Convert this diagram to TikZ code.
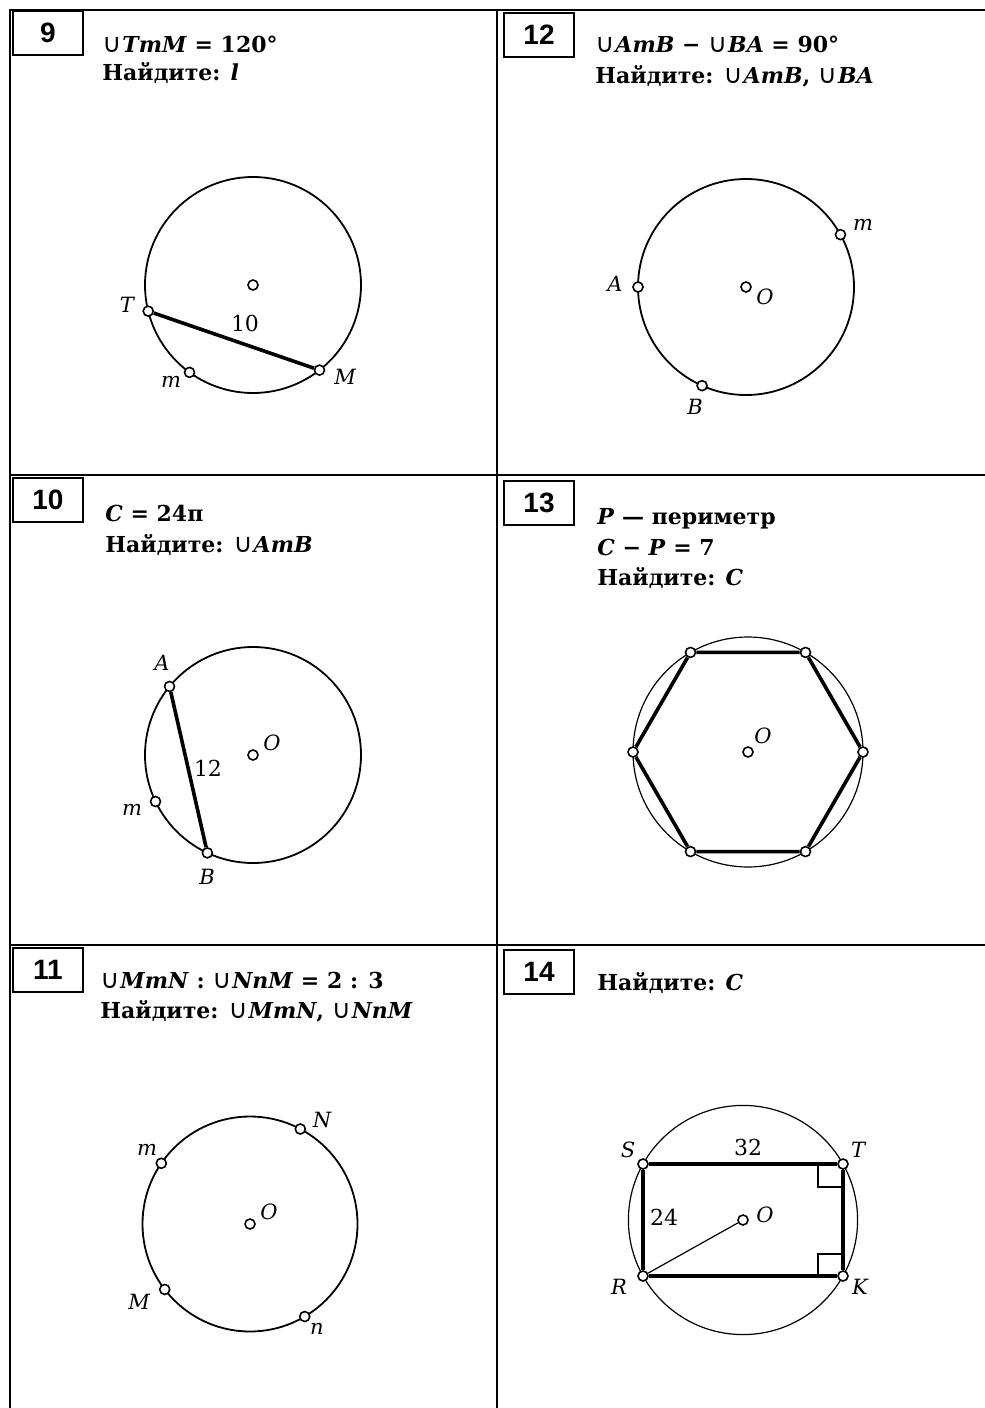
\documentclass[tikz,border=0pt]{standalone}
\usepackage{fontspec}
\setmainfont{DejaVu Serif}
\newfontfamily\numfont{Liberation Sans}
\newfontfamily\cupfont{DejaVu Sans}
\usetikzlibrary{calc}
\newcommand\arcsign{{\cupfont\mdseries\fontsize{13}{12}\selectfont ∪}\kern0.5pt}

\begin{document}
\begin{tikzpicture}[
    x=0.5pt, y=-0.5pt,
    frame/.style={line width=1.3pt},
    numbox/.style={draw, line width=1pt, anchor=north west, minimum width=35pt, minimum height=22pt, inner sep=0pt, font=\numfont\bfseries\fontsize{14}{14}\selectfont},
    task/.style={anchor=base west, inner sep=0pt, font=\bfseries\fontsize{11}{12}\selectfont},
    rim/.style={line width=0.9pt},
    thinrim/.style={line width=0.6pt},
    chord/.style={line width=1.8pt},
    pt/.style={circle, draw, fill=white, line width=0.8pt, inner sep=0pt, minimum size=5pt},
    lbl/.style={inner sep=0pt, font=\itshape\fontsize{10.5}{11}\selectfont},
    num/.style={inner sep=0pt, font=\fontsize{11}{11}\selectfont}
  ]
  \useasboundingbox (0,0) rectangle (985,1408);

  % Frame and panels
  \draw[frame] (10,1408) -- (10,10) -- (985,10);
  \draw[frame] (10,475) -- (985,475);
  \draw[frame] (10,945) -- (985,945);
  \draw[frame] (497,10) -- (497,1408);

  \node[numbox] (n9) at (12,10) {9};
  \node[numbox] (n12) at (503,12) {12};
  \node[numbox] (n10) at (12,477) {10};
  \node[numbox] (n13) at (503,480) {13};
  \node[numbox] (n11) at (12,947) {11};
  \node[numbox] (n14) at (503,949) {14};

  % Task texts
  \node[task] (q9a) at (102,52) {\arcsign\textit{TmM} = 120°};
  \node[task] (q9b) at (102,80) {Найдите: \textit{l}};
  \node[task] (q12a) at (595,53) {\arcsign\textit{AmB} − \arcsign\textit{BA} = 90°};
  \node[task] (q12b) at (595,83) {Найдите: \arcsign\textit{AmB}, \arcsign\textit{BA}};
  \node[task] (q10a) at (105,521) {\textit{C} = 24π};
  \node[task] (q10b) at (105,552) {Найдите: \arcsign\textit{AmB}};
  \node[task] (q13a) at (597,524) {\textit{P} — периметр};
  \node[task] (q13b) at (597,555) {\textit{C} − \textit{P} = 7};
  \node[task] (q13c) at (597,585) {Найдите: \textit{C}};
  \node[task] (q11a) at (100,988) {\arcsign\textit{MmN} : \arcsign\textit{NnM} = 2 : 3};
  \node[task] (q11b) at (100,1018) {Найдите: \arcsign\textit{MmN}, \arcsign\textit{NnM}};
  \node[task] (q14a) at (597,990) {Найдите: \textit{C}};

  % Panel 9
  \coordinate (c9) at (253,285);
  \draw[rim] (c9) circle [radius=108];
  \node[pt] (O9) at (c9) {};
  \node[pt] (T9) at ($(c9)+(-194:108)$) {};
  \node[pt] (M9) at ($(c9)+(-308:108)$) {};
  \node[pt] (m9) at ($(c9)+(-234:108)$) {};
  \draw[chord] (T9) -- (M9);
  \node[lbl] (lT9) at (127,305) {T};
  \node[lbl] (lm9) at (171,382) {m};
  \node[lbl] (lM9) at (345,377) {M};
  \node[num] (d9) at (245,323) {10};

  % Panel 12
  \coordinate (c12) at (746,287);
  \draw[rim] (c12) circle [radius=108];
  \node[pt] (O12) at (c12) {};
  \node[pt] (A12) at ($(c12)+(-180:108)$) {};
  \node[pt] (m12) at ($(c12)+(-29:108)$) {};
  \node[pt] (B12) at ($(c12)+(-246:108)$) {};
  \node[lbl] (lA12) at (615,284) {A};
  \node[lbl] (lm12) at (863,225) {m};
  \node[lbl] (lO12) at (765,297) {O};
  \node[lbl] (lB12) at (695,407) {B};

  % Panel 10
  \coordinate (c10) at (253,755);
  \draw[rim] (c10) circle [radius=108];
  \node[pt] (O10) at (c10) {};
  \node[pt] (A10) at ($(c10)+(-140.6:108)$) {};
  \node[pt] (B10) at ($(c10)+(-245:108)$) {};
  \node[pt] (m10) at ($(c10)+(-205.5:108)$) {};
  \draw[chord] (A10) -- (B10);
  \node[lbl] (lA10) at (162,663) {A};
  \node[lbl] (lO10) at (272,743) {O};
  \node[num] (d10) at (208,768) {12};
  \node[lbl] (lm10) at (132,810) {m};
  \node[lbl] (lB10) at (207,877) {B};

  % Panel 13
  \coordinate (c13) at (748,752);
  \draw[thinrim] (c13) circle [radius=115];
  \node[pt] (O13) at (c13) {};
  \node[pt] (h1) at ($(c13)+(0:115)$) {};
  \node[pt] (h2) at ($(c13)+(60:115)$) {};
  \node[pt] (h3) at ($(c13)+(120:115)$) {};
  \node[pt] (h4) at ($(c13)+(180:115)$) {};
  \node[pt] (h5) at ($(c13)+(240:115)$) {};
  \node[pt] (h6) at ($(c13)+(300:115)$) {};
  \draw[chord] (h1) -- (h2) -- (h3) -- (h4) -- (h5) -- (h6) -- (h1);
  \node[lbl] (lO13) at (763,736) {O};

  % Panel 11
  \coordinate (c11) at (250,1224);
  \draw[rim] (c11) circle [radius=107.5];
  \node[pt] (O11) at (c11) {};
  \node[pt] (N11) at ($(c11)+(-62.1:107.5)$) {};
  \node[pt] (m11) at ($(c11)+(-145.6:107.5)$) {};
  \node[pt] (M11) at ($(c11)+(-217.5:107.5)$) {};
  \node[pt] (n11p) at ($(c11)+(-300.6:107.5)$) {};
  \node[lbl] (lN11) at (322,1120) {N};
  \node[lbl] (lm11) at (147,1150) {m};
  \node[lbl] (lO11) at (269,1212) {O};
  \node[lbl] (lM11) at (139,1302) {M};
  \node[lbl] (ln11) at (317,1329) {n};

  % Panel 14
  \coordinate (c14) at (743,1220);
  \draw[thinrim] (c14) circle [radius=114.6];
  \draw[thinrim] (818,1164) -- (818,1187) -- (843,1187);
  \draw[thinrim] (818,1276) -- (818,1254) -- (843,1254);
  \node[pt] (O14) at (c14) {};
  \node[pt] (S14) at ($(c14)+(-100,-56)$) {};
  \node[pt] (T14) at ($(c14)+(100,-56)$) {};
  \node[pt] (K14) at ($(c14)+(100,56)$) {};
  \node[pt] (R14) at ($(c14)+(-100,56)$) {};
  \draw[chord] (S14) -- (T14) -- (K14) -- (R14) -- (S14);
  \draw[thinrim] (R14) -- (O14);
  \node[lbl] (lS14) at (628,1150) {S};
  \node[lbl] (lT14) at (858,1150) {T};
  \node[num] (d14a) at (748,1147) {32};
  \node[num] (d14b) at (664,1217) {24};
  \node[lbl] (lO14) at (765,1215) {O};
  \node[lbl] (lR14) at (619,1287) {R};
  \node[lbl] (lK14) at (860,1287) {K};
\end{tikzpicture}
\end{document}
